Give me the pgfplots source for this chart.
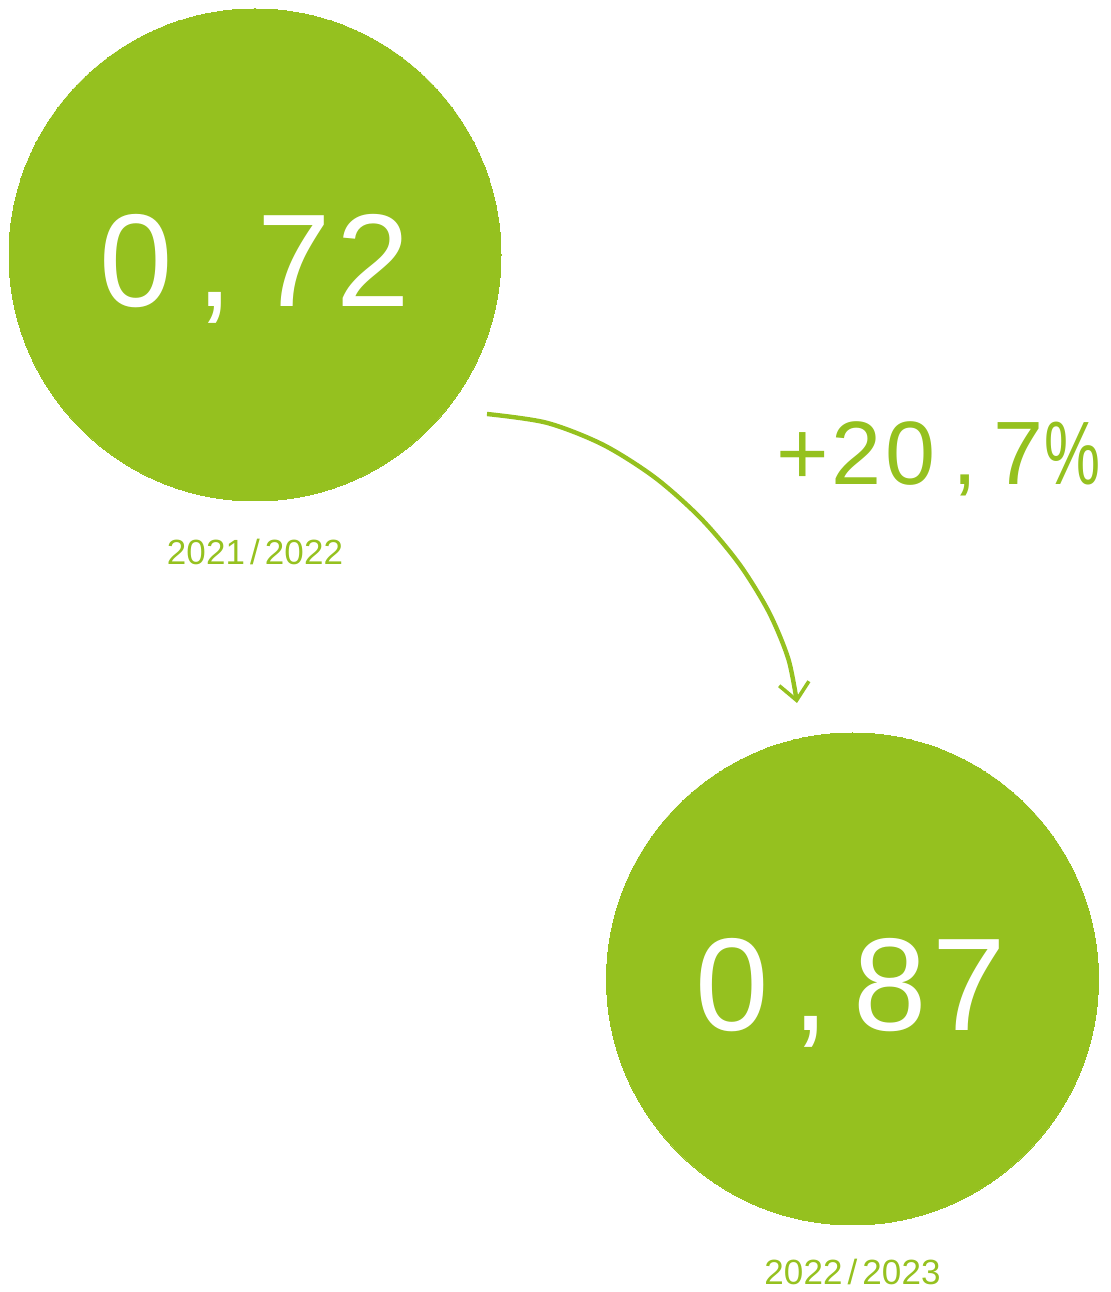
\documentclass[border=0pt]{standalone}
\usepackage{pgfplots}
\pgfplotsset{compat=1.18}
\usepackage{fontspec}
\setmainfont{Liberation Sans}
\usetikzlibrary{arrows.meta}
\definecolor{lime}{HTML}{95C11F}
\newcommand{\cA}[1]{\makebox[39.5pt][c]{#1}}
\newcommand{\cB}[1]{\makebox[27pt][c]{#1}}
\newcommand{\cC}[1]{\makebox[9.8pt][c]{#1}}
\begin{document}
\begin{tikzpicture}
\begin{axis}[
  width=555pt, height=646pt, scale only axis,
  xmin=0, xmax=1110, ymin=0, ymax=1292,
  hide axis, clip=false,
]
% frame for bounding box
\addplot[draw=none, forget plot] coordinates {(0,0) (1110,1292)};
% circles (values)
\addplot[lime, only marks, mark=*, mark size=123pt, mark options={fill=lime, draw=lime, line width=0pt}]
  coordinates {(255,1037) (852.5,313)};
% arrow
\addplot[lime, line width=2.2pt, smooth, -{Straight Barb[length=8.5pt,width=15pt,line width=1.8pt]}]
  coordinates {(487,878) (546.8,869.2) (603.2,847.2) (654.9,814.5) (700.5,774) (738.9,728.5) (768.6,680.5) (788.3,633.2) (797,589)};
\coordinate (v1) at (axis cs:254.5,985);
\coordinate (v2) at (axis cs:850.5,261);
\coordinate (pc) at (axis cs:938,807);
\coordinate (y1) at (axis cs:255,727);
\coordinate (y2) at (axis cs:852.5,7);
\end{axis}
\node[anchor=base, text=white, font=\fontsize{66}{66}\selectfont, inner sep=0] at (v1) {\cA{0}\cA{,}\cA{7}\cA{2}};
\node[anchor=base, text=white, font=\fontsize{66}{66}\selectfont, inner sep=0] at (v2) {\cA{0}\cA{,}\cA{8}\cA{7}};
\node[anchor=base, text=lime, font=\fontsize{45}{45}\selectfont, inner sep=0] at (pc) {\cB{+}\cB{2}\cB{0}\cB{,}\cB{7}\cB{\scalebox{0.7}[1]{\%}}};
\node[anchor=base, text=lime, font=\fontsize{17.5}{17.5}\selectfont, inner sep=0] at (y1) {\cC{2}\cC{0}\cC{2}\cC{1}\cC{/}\cC{2}\cC{0}\cC{2}\cC{2}};
\node[anchor=base, text=lime, font=\fontsize{17.5}{17.5}\selectfont, inner sep=0] at (y2) {\cC{2}\cC{0}\cC{2}\cC{2}\cC{/}\cC{2}\cC{0}\cC{2}\cC{3}};
\end{tikzpicture}
\end{document}
